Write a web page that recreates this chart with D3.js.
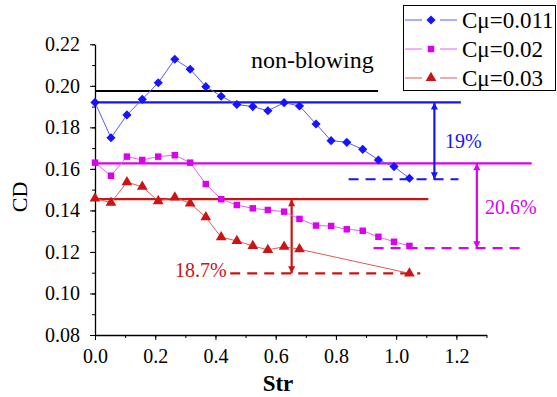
<!DOCTYPE html>
<html>
<head>
<meta charset="utf-8">
<script src="https://cdn.jsdelivr.net/npm/d3@7"></script>
<style>
  body { margin: 0; background: #fff; }
</style>
</head>
<body>
<script>
'use strict';

// Str values of the measured points
const strAll = [0, 0.053, 0.106, 0.157, 0.21, 0.265, 0.316, 0.368, 0.419, 0.471, 0.524,
  0.574, 0.628, 0.679, 0.734, 0.784, 0.836, 0.889, 0.941, 0.993, 1.044];
const strRed = [0, 0.053, 0.106, 0.157, 0.21, 0.265, 0.316, 0.368, 0.419, 0.471, 0.524,
  0.574, 0.628, 0.679, 1.044];

// CD values per blowing coefficient
const cdBlue = [0.192, 0.175, 0.186, 0.1935, 0.2015, 0.2128, 0.208, 0.1996, 0.195, 0.191, 0.190,
  0.188, 0.1919, 0.1903, 0.1816, 0.1736, 0.1728, 0.1694, 0.1643, 0.1611, 0.1555];
const cdMagenta = [0.163, 0.1567, 0.1659, 0.1643, 0.1659, 0.1666, 0.163, 0.1527, 0.1454, 0.1426, 0.141,
  0.1402, 0.1394, 0.1359, 0.1327, 0.1325, 0.1309, 0.1302, 0.1273, 0.1249, 0.1229];
const cdRed = [0.1458, 0.1437, 0.1536, 0.1514, 0.1445, 0.1463, 0.1434, 0.1367, 0.1271, 0.1253, 0.1229,
  0.121, 0.1225, 0.1213, 0.1097];

const legendLabels = ["Cμ=0.011", "Cμ=0.02", "Cμ=0.03"];

// reference levels: [cd, strStart, strEnd]
const solidLevels = [[0.1975, 0, 0.94], [0.192, 0, 1.215], [0.1627, 0, 1.45], [0.1454, 0, 1.107]];
const dashedLevels = [[0.155, 0.842, 1.207], [0.1218, 0.925, 1.418], [0.1097, 0.449, 1.08]];
// reduction arrows: [str, cdTop, cdBottom]
const arrows = [[1.127, 0.192, 0.155], [1.268, 0.1627, 0.1218], [0.653, 0.1454, 0.1097]];
const arrowLabels = ["19%", "20.6%", "18.7%"];

const xTicks = [0, 0.2, 0.4, 0.6, 0.8, 1.0, 1.2];
const yTicks = [0.08, 0.10, 0.12, 0.14, 0.16, 0.18, 0.20, 0.22];

const blue = "#1414ff", magenta = "#dc00f0", red = "#cc1414";
const serif = "'Liberation Serif', 'Times New Roman', serif";

const svg = d3.select("body").append("svg")
  .attr("width", 557).attr("height", 397)
  .style("font-family", serif);

const x = d3.scaleLinear().domain([0, 1.3]).range([95, 486.5]);
const y = d3.scaleLinear().domain([0.08, 0.22]).range([335, 44.3]);

// axes
svg.append("g")
  .attr("transform", "translate(0,335)")
  .call(d3.axisBottom(x).tickValues(d3.range(0, 1.31, 0.1)).tickSize(3).tickFormat(""))
  .call(g => g.select(".domain").remove());
svg.append("g")
  .attr("transform", "translate(0,335)")
  .call(d3.axisBottom(x).tickValues(xTicks).tickSize(5).tickPadding(9).tickSizeOuter(0)
    .tickFormat(d3.format(".1f")))
  .attr("font-family", serif).attr("font-size", 20)
  .call(g => g.selectAll("text").attr("fill", "#000"));

svg.append("g")
  .attr("transform", "translate(95,0)")
  .call(d3.axisLeft(y).tickValues(d3.range(0.08, 0.2201, 0.01)).tickSize(3).tickFormat(""))
  .call(g => g.select(".domain").remove());
svg.append("g")
  .attr("transform", "translate(95,0)")
  .call(d3.axisLeft(y).tickValues(yTicks).tickSize(5).tickPadding(10).tickSizeOuter(0)
    .tickFormat(d3.format(".2f")))
  .attr("font-family", serif).attr("font-size", 20)
  .call(g => g.selectAll("text").attr("fill", "#000"));

svg.selectAll(".domain").attr("stroke-width", 1.3);

svg.append("text")
  .attr("transform", "translate(27,197)rotate(-90)")
  .attr("text-anchor", "middle")
  .style("font-size", "22px")
  .text("CD");

svg.append("text")
  .attr("x", 278).attr("y", 391)
  .attr("text-anchor", "middle")
  .style("font-size", "23px").style("font-weight", "bold")
  .text("Str");

// reference lines
const levelColors = ["#000", blue, magenta, red];
solidLevels.forEach((l, i) => {
  svg.append("line")
    .attr("x1", x(l[1])).attr("x2", x(l[2]))
    .attr("y1", y(l[0])).attr("y2", y(l[0]))
    .attr("stroke", levelColors[i]).attr("stroke-width", 2.2);
});
const seriesColors = [blue, magenta, red];
dashedLevels.forEach((l, i) => {
  svg.append("line")
    .attr("x1", x(l[1])).attr("x2", x(l[2]))
    .attr("y1", y(l[0])).attr("y2", y(l[0]))
    .attr("stroke", seriesColors[i]).attr("stroke-width", 2.2)
    .attr("stroke-dasharray", "10,7");
});

// double-headed arrows
const defs = svg.append("defs");
seriesColors.forEach((c, i) => {
  defs.append("marker")
    .attr("id", "arr" + i)
    .attr("viewBox", "0 0 10 10").attr("refX", 10).attr("refY", 5)
    .attr("markerWidth", 8).attr("markerHeight", 7)
    .attr("markerUnits", "userSpaceOnUse")
    .attr("orient", "auto-start-reverse")
    .append("path").attr("d", "M0,0L10,5L0,10Z").attr("fill", c);
});
arrows.forEach((a, i) => {
  svg.append("line")
    .attr("x1", x(a[0])).attr("x2", x(a[0]))
    .attr("y1", y(a[1])).attr("y2", y(a[2]))
    .attr("stroke", seriesColors[i]).attr("stroke-width", 2.2)
    .attr("marker-start", "url(#arr" + i + ")")
    .attr("marker-end", "url(#arr" + i + ")");
});

// annotation texts
const labelPos = [[445, 148], [485, 214], [175, 277]];
arrowLabels.forEach((t, i) => {
  svg.append("text")
    .attr("x", labelPos[i][0]).attr("y", labelPos[i][1])
    .attr("fill", seriesColors[i])
    .style("font-size", "20px")
    .text(t);
});
svg.append("text")
  .attr("x", 251).attr("y", 68)
  .style("font-size", "24px")
  .text("non-blowing");

// series
const lineColors = ["#5a5aff", "#e860f4", "#e05a5a"];
const series = [
  { s: strAll, c: cdBlue },
  { s: strAll, c: cdMagenta },
  { s: strRed, c: cdRed }
];
const symbols = [d3.symbolSquare, d3.symbolSquare, d3.symbolTriangle];
const symSizes = [42, 42, 50];
const symRot = [45, 0, 0];

series.forEach((ser, i) => {
  const pts = ser.s.map((v, j) => [v, ser.c[j]]);
  svg.append("path")
    .datum(pts)
    .attr("fill", "none")
    .attr("stroke", lineColors[i])
    .attr("stroke-width", 1)
    .attr("d", d3.line().x(d => x(d[0])).y(d => y(d[1])));
  svg.selectAll(".pt" + i)
    .data(pts).enter()
    .append("path")
    .attr("class", "pt" + i)
    .attr("transform", d => "translate(" + x(d[0]) + "," + y(d[1]) + ")rotate(" + symRot[i] + ")")
    .attr("d", d3.symbol().type(symbols[i]).size(symSizes[i]))
    .attr("fill", seriesColors[i]);
});

// legend
const legend = svg.append("g");
legend.append("rect")
  .attr("x", 403.5).attr("y", 5.5).attr("width", 152).attr("height", 85)
  .attr("fill", "#fff").attr("stroke", "#000").attr("stroke-width", 1);
legendLabels.forEach((t, i) => {
  const ly = 20 + i * 29;
  legend.append("line").attr("x1", 405).attr("x2", 422).attr("y1", ly).attr("y2", ly)
    .attr("stroke", lineColors[i]).attr("stroke-width", 1);
  legend.append("line").attr("x1", 440).attr("x2", 457).attr("y1", ly).attr("y2", ly)
    .attr("stroke", lineColors[i]).attr("stroke-width", 1);
  legend.append("path")
    .attr("transform", "translate(431," + ly + ")rotate(" + symRot[i] + ")")
    .attr("d", d3.symbol().type(symbols[i]).size(symSizes[i]))
    .attr("fill", seriesColors[i]);
  legend.append("text")
    .attr("x", 462).attr("y", ly + 8)
    .style("font-size", "23px")
    .text(t);
});
</script>
</body>
</html>
